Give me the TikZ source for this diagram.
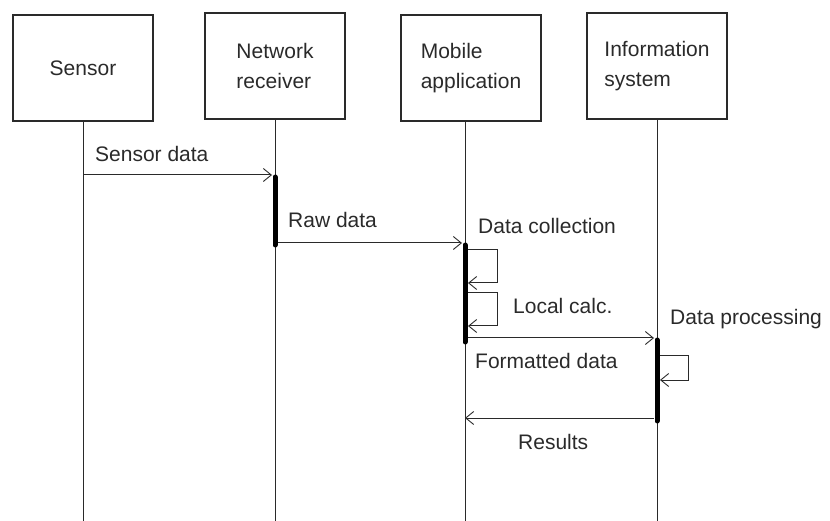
\documentclass[tikz,border=0pt]{standalone}
\usepackage{fontspec}
\setmainfont{Liberation Sans}
\usetikzlibrary{arrows.meta}
\definecolor{ink}{HTML}{2A2A2A}
\begin{document}
\begin{tikzpicture}[x=1pt,y=-1pt,
  font=\fontsize{21}{30}\selectfont,
  actor/.style={draw=ink, line width=1.4pt, minimum width=140pt, minimum height=106pt, align=left, text=ink, inner sep=0pt},
  lifeline/.style={draw=ink, line width=1pt},
  activation/.style={draw=black, line width=5pt, line cap=round},
  msg/.style={draw=ink, line width=1pt, -{Straight Barb[length=8pt,width=13pt,line width=0.9pt]}},
  lbl/.style={anchor=base west, inner sep=0pt, text=ink}]
\useasboundingbox (0,0) rectangle (830,521);

% actors
\node[actor] (sen) at (83,68) {Sensor};
\node[actor] (net) at (275,66) {Network\\receiver};
\node[actor] (mob) at (471,68) {Mobile\\application};
\node[actor] (inf) at (657,66) {Information\\system};

% lifeline ends
\coordinate (senE) at (83,521);
\coordinate (netE) at (275,521);
\coordinate (mobE) at (465,521);
\coordinate (infE) at (657,521);
\draw[lifeline] (sen.south -| senE) -- (senE);
\draw[lifeline] (net.south -| netE) -- (netE);
\draw[lifeline] (mob.south -| mobE) -- (mobE);
\draw[lifeline] (inf.south -| infE) -- (infE);

% activation bars
\coordinate (netA1) at (275,177);
\coordinate (netA2) at (275,245);
\coordinate (mobA1) at (465,245);
\coordinate (mobA2) at (465,342);
\coordinate (infA1) at (657,340);
\coordinate (infA2) at (657,421);
\draw[activation] (netA1) -- (netA2);
\draw[activation] (mobA1) -- (mobA2);
\draw[activation] (infA1) -- (infA2);

% messages
\coordinate (m1s) at (83,175);   \coordinate (m1e) at (272,175);
\coordinate (m2s) at (278,243);  \coordinate (m2e) at (462,243);
\coordinate (m3s) at (468,338);  \coordinate (m3e) at (654,338);
\coordinate (m4s) at (654,418);  \coordinate (m4e) at (465,418);
\draw[msg] (m1s) -- (m1e);
\draw[msg] (m2s) -- (m2e);
\draw[msg] (m3s) -- (m3e);
\draw[msg] (m4s) -- (m4e);

% self messages
\coordinate (s1a) at (468,250); \coordinate (s1b) at (468,283);
\coordinate (s2a) at (468,293); \coordinate (s2b) at (468,326);
\coordinate (s3a) at (660,355); \coordinate (s3b) at (660,380);
\draw[msg] (s1a) -- (497,250) -- (497,283) -- (s1b);
\draw[msg] (s2a) -- (497,293) -- (497,326) -- (s2b);
\draw[msg] (s3a) -- (688,355) -- (688,380) -- (s3b);

% labels
\node[lbl] (l1) at (95,162) {Sensor data};
\node[lbl] (l2) at (288,228) {Raw data};
\node[lbl] (l3) at (478,234) {Data collection};
\node[lbl] (l4) at (513,313) {Local calc.};
\node[lbl] (l5) at (670,324) {Data processing};
\node[lbl] (l6) at (475,368) {Formatted data};
\node[lbl] (l7) at (518,449) {Results};
\end{tikzpicture}
\end{document}
